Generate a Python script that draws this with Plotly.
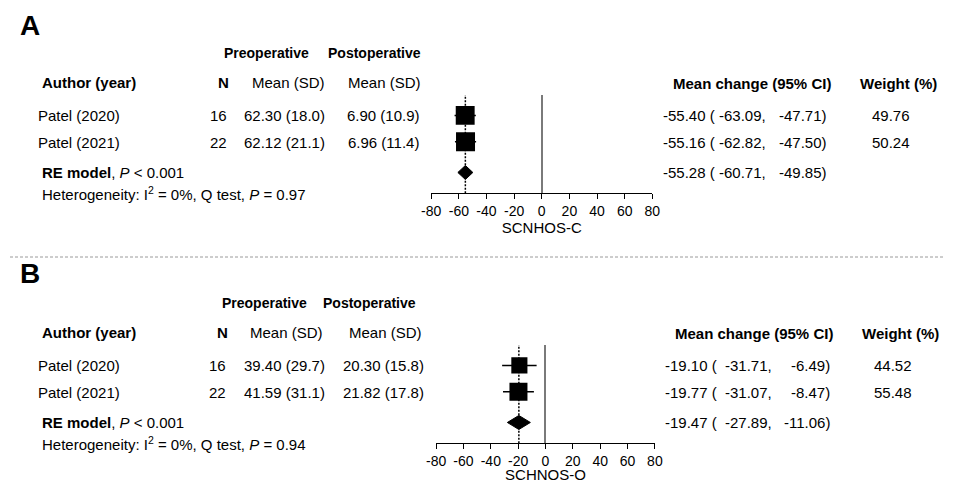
import plotly.graph_objects as go

# ---------------- data ----------------
authors = ["Patel (2020)", "Patel (2021)"]
study_n = [16, 22]

# Panel A (SCNHOS-C)
a_pre_mean = [62.30, 62.12]
a_pre_sd = [18.0, 21.1]
a_post_mean = [6.90, 6.96]
a_post_sd = [10.9, 11.4]
a_est = [-55.40, -55.16]
a_lo = [-63.09, -62.82]
a_hi = [-47.71, -47.50]
a_weight = [49.76, 50.24]
a_sum = [-55.28, -60.71, -49.85]   # estimate, lower, upper
a_p_text = "&lt; 0.001"
a_i2 = 0
a_q_p = 0.97
a_xtitle = "SCNHOS-C"

# Panel B (SCHNOS-O)
b_pre_mean = [39.40, 41.59]
b_pre_sd = [29.7, 31.1]
b_post_mean = [20.30, 21.82]
b_post_sd = [15.8, 17.8]
b_est = [-19.10, -19.77]
b_lo = [-31.71, -31.07]
b_hi = [-6.49, -8.47]
b_weight = [44.52, 55.48]
b_sum = [-19.47, -27.89, -11.06]
b_p_text = "&lt; 0.001"
b_i2 = 0
b_q_p = 0.94
b_xtitle = "SCHNOS-O"

x_ticks = [-80, -60, -40, -20, 0, 20, 40, 60, 80]
x_ticklabels = [str(t) for t in x_ticks]

# ---------------- layout helpers ----------------
W, H = 953, 483
FONT = "Liberation Sans, Arial, Helvetica, sans-serif"


def px(x):
    return x / W


def py(y):
    return 1 - y / H


panels = [
    dict(letter="A", letter_y=25, dy=0, xdom=(429.3, 654.7),
         pre_mean=a_pre_mean, pre_sd=a_pre_sd, post_mean=a_post_mean, post_sd=a_post_sd,
         est=a_est, lo=a_lo, hi=a_hi, w=a_weight, summ=a_sum, ptxt=a_p_text,
         i2=a_i2, qp=a_q_p, xtitle=a_xtitle,
         n_head=218, n_right=222, pre_head=284, pre_val=280, post_head=382, post_val=380.5,
         preop=261, postop=372, est_left=665, lo_right=772, hi_right=834,
         mc_head=756, w_head=906, w_val=898, size_max=19),
    dict(letter="B", letter_y=273, dy=250, xdom=(434.3, 657.3),
         pre_mean=b_pre_mean, pre_sd=b_pre_sd, post_mean=b_post_mean, post_sd=b_post_sd,
         est=b_est, lo=b_lo, hi=b_hi, w=b_weight, summ=b_sum, ptxt=b_p_text,
         i2=b_i2, qp=b_q_p, xtitle=b_xtitle,
         n_head=216.5, n_right=221, pre_head=281.5, pre_val=279.5, post_head=382.5, post_val=380.5,
         preop=259.5, postop=366.5, est_left=667, lo_right=778, hi_right=837,
         mc_head=758.5, w_head=907.5, w_val=900, size_max=18),
]

# row geometry (pixels for panel A; panel B is shifted by dy)
ROW_PX = 26.3
ROW1_PX = 115.4
SUM_ROW = 3.17
Y_TOP_PX, Y_BOT_PX = 95, 193.3
Y_RANGE = [1 + (Y_BOT_PX - ROW1_PX) / ROW_PX, 1 + (Y_TOP_PX - ROW1_PX) / ROW_PX]
DIAMOND_HALF = 7 / ROW_PX

fig = go.Figure()
annotations = []
shapes = []


def txt(x, y, text, anchor="left", size=15, bold=False):
    annotations.append(dict(
        x=px(x), y=py(y), xref="paper", yref="paper", text=("<b>%s</b>" % text) if bold else text,
        showarrow=False, xanchor=anchor, yanchor="middle", borderpad=0,
        font=dict(family=FONT, size=size, color="black")))


for i, p in enumerate(panels):
    dy = p["dy"]
    xa = "x" if i == 0 else "x2"
    ya = "y" if i == 0 else "y2"
    rows = [k + 1 for k in range(len(authors))]

    # confidence-interval whiskers
    cx, cy = [], []
    for r, lo, hi in zip(rows, p["lo"], p["hi"]):
        cx += [lo, hi, None]
        cy += [r, r, None]
    fig.add_trace(go.Scatter(x=cx, y=cy, mode="lines", line=dict(color="black", width=1.5),
                             xaxis=xa, yaxis=ya, showlegend=False, hoverinfo="skip"))
    # squares sized by weight
    wmax = max(p["w"])
    sizes = [p["size_max"] * (w / wmax) ** 0.5 for w in p["w"]]
    fig.add_trace(go.Scatter(x=p["est"], y=rows, mode="markers",
                             marker=dict(symbol="square", size=sizes, color="black", opacity=1,
                                         line=dict(width=0)),
                             xaxis=xa, yaxis=ya, showlegend=False))
    # summary diamond
    est, slo, shi = p["summ"]
    fig.add_trace(go.Scatter(x=[slo, est, shi, est, slo],
                             y=[SUM_ROW, SUM_ROW - DIAMOND_HALF, SUM_ROW, SUM_ROW + DIAMOND_HALF, SUM_ROW],
                             mode="lines", fill="toself", fillcolor="black",
                             line=dict(color="black", width=1), xaxis=xa, yaxis=ya,
                             showlegend=False))
    # dotted line at pooled estimate
    shapes.append(dict(type="line", xref=xa, yref=ya + " domain", x0=est, x1=est, y0=0, y1=1,
                       line=dict(color="black", width=1.5, dash="2px,1.5px")))

    axis_common = dict(range=[x_ticks[0], x_ticks[-1]], tickmode="array", tickvals=x_ticks,
                       ticktext=x_ticklabels, ticks="outside",
                       ticklen=5, tickwidth=1, tickcolor="black", showline=True,
                       linecolor="black", linewidth=1, showgrid=False, zeroline=True,
                       zerolinecolor="#7a7a7a", zerolinewidth=1.5,
                       tickfont=dict(family=FONT, size=14, color="black"),
                       title=dict(text=p["xtitle"], font=dict(family=FONT, size=15, color="black"),
                                  standoff=1),
                       domain=[px(p["xdom"][0]), px(p["xdom"][1])], fixedrange=True)
    yaxis_common = dict(range=Y_RANGE, visible=False, showgrid=False, zeroline=False,
                        domain=[py(Y_BOT_PX + dy), py(Y_TOP_PX + dy)], fixedrange=True)
    if i == 0:
        fig.update_layout(xaxis=dict(anchor="y", **axis_common), yaxis=dict(anchor="x", **yaxis_common))
    else:
        fig.update_layout(xaxis2=dict(anchor="y2", **axis_common), yaxis2=dict(anchor="x2", **yaxis_common))

    # panel letter
    txt(9, p["letter_y"], p["letter"], size=28, bold=True)

    # headers
    txt(p["preop"], 53 + dy, "Preoperative", anchor="center", size=14, bold=True)
    txt(p["postop"], 53 + dy, "Postoperative", anchor="center", size=14, bold=True)
    txt(32, 82 + dy, "Author (year)", bold=True)
    txt(p["n_head"], 82 + dy, "N", anchor="center", bold=True)
    txt(p["pre_head"], 82 + dy, "Mean (SD)", anchor="center")
    txt(p["post_head"], 82 + dy, "Mean (SD)", anchor="center")
    txt(p["mc_head"], 83 + dy, "Mean change (95% CI)", anchor="center", bold=True)
    txt(p["w_head"], 83 + dy, "Weight (%)", anchor="center", bold=True)

    # study rows
    for k, name in enumerate(authors):
        yy = ROW1_PX + k * ROW_PX + dy + 0.5
        txt(28, yy, name)
        txt(p["n_right"], yy, str(study_n[k]), anchor="right")
        txt(p["pre_val"], yy, "%.2f (%.1f)" % (p["pre_mean"][k], p["pre_sd"][k]), anchor="center")
        txt(p["post_val"], yy, "%.2f (%.1f)" % (p["post_mean"][k], p["post_sd"][k]), anchor="center")
        txt(p["est_left"], yy, "%.2f (" % p["est"][k])
        txt(p["lo_right"], yy, "%.2f," % p["lo"][k], anchor="right")
        txt(p["hi_right"], yy, "%.2f)" % p["hi"][k], anchor="right")
        txt(p["w_val"], yy, "%.2f" % p["w"][k], anchor="center")

    # summary rows
    ys = 172.5 + dy
    txt(32, ys, "<b>RE model</b>, <i>P</i> %s" % p["ptxt"])
    txt(p["est_left"], ys, "%.2f (" % est)
    txt(p["lo_right"], ys, "%.2f," % slo, anchor="right")
    txt(p["hi_right"], ys, "%.2f)" % shi, anchor="right")
    txt(32, 193 + dy, "Heterogeneity: I<sup>2</sup> = %d%%, Q test, <i>P</i> = %.2f" % (p["i2"], p["qp"]))

# dashed separator between panels
shapes.append(dict(type="line", xref="paper", yref="paper", x0=0, x1=1, y0=py(257), y1=py(257),
                   line=dict(color="#9a9a9a", width=1, dash="3px,2px")))

fig.update_layout(width=W, height=H, margin=dict(l=0, r=0, t=0, b=0),
                  paper_bgcolor="white", plot_bgcolor="white",
                  annotations=annotations, shapes=shapes, showlegend=False,
                  font=dict(family=FONT, color="black"))

fig.write_html("out.html", config={"displayModeBar": False},
               post_script="document.body.style.margin='0px';document.body.style.overflow='hidden';")
